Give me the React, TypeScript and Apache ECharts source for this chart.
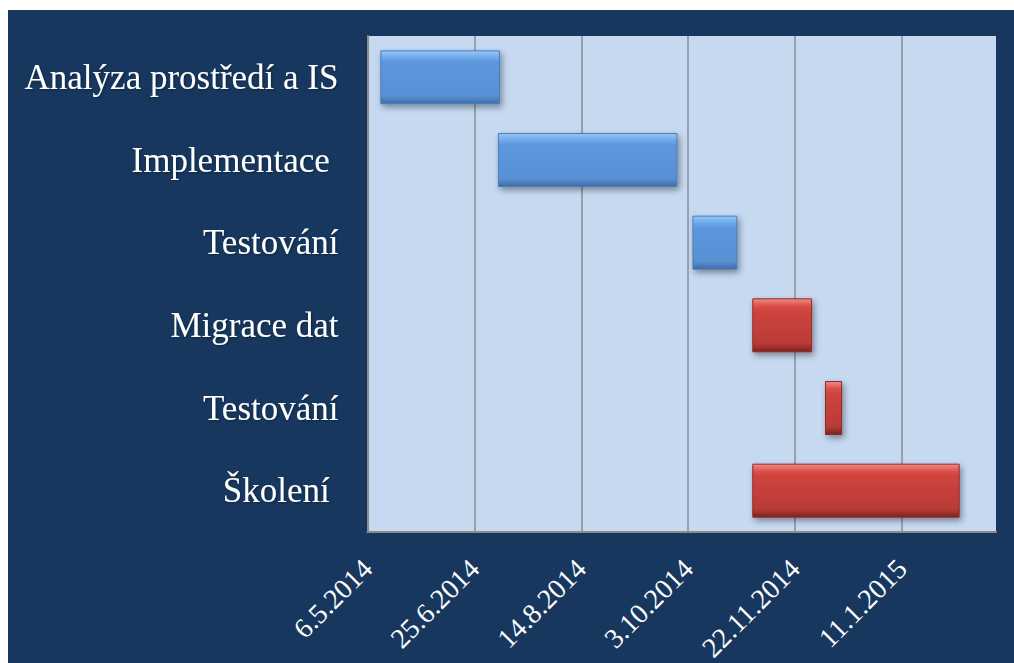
import React, { useEffect, useRef } from "react";
import * as echarts from "echarts";

const tasks = ["Analýza prostředí a IS", "Implementace ", "Testování", "Migrace dat", "Testování", "Školení "];
const startDates = ["2014-05-12", "2014-07-06", "2014-10-05", "2014-11-02", "2014-12-06", "2014-11-02"];
const endDates = ["2014-07-07", "2014-09-28", "2014-10-26", "2014-11-30", "2014-12-14", "2015-02-07"];
const phase = ["blue", "blue", "blue", "red", "red", "red"];
const axisStart = "2014-05-06";
const axisEndDays = 294;
const tickStepDays = 50;
const tickLabels = ["6.5.2014", "25.6.2014", "14.8.2014", "3.10.2014", "22.11.2014", "11.1.2015"];

const DAY = 86400000;
const toDays = (s: string) => Math.round((Date.parse(s + "T00:00:00Z") - Date.parse(axisStart + "T00:00:00Z")) / DAY);

const blueGrad = () =>
  new echarts.graphic.LinearGradient(0, 0, 0, 1, [
    { offset: 0, color: "#93C8F8" },
    { offset: 0.13, color: "#6DA8EA" },
    { offset: 0.22, color: "#5C97DD" },
    { offset: 0.85, color: "#5990D4" },
    { offset: 1, color: "#3E6DA6" },
  ]);
const redGrad = () =>
  new echarts.graphic.LinearGradient(0, 0, 0, 1, [
    { offset: 0, color: "#F28C86" },
    { offset: 0.13, color: "#DB514B" },
    { offset: 0.22, color: "#D0443E" },
    { offset: 0.85, color: "#B83B36" },
    { offset: 1, color: "#7C2220" },
  ]);

export default function App() {
  const ref = useRef<HTMLDivElement>(null);
  useEffect(() => {
    if (!ref.current) return;
    const chart = echarts.init(ref.current, null, { renderer: "svg" });
    const starts = startDates.map(toDays);
    const durations = endDates.map((e, i) => toDays(e) - starts[i]);
    chart.setOption({
      animation: false,
      backgroundColor: "#17375E",
      grid: {
        left: 359.5,
        top: 26,
        right: 18,
        bottom: 131,
        outerBoundsMode: "none",
        containLabel: false,
        show: true,
        backgroundColor: "#C6D9F1",
        borderWidth: 0,
      },
      xAxis: {
        type: "value",
        min: 0,
        max: axisEndDays,
        interval: tickStepDays,
        axisLine: { show: true, lineStyle: { color: "#8C8C8C", width: 2 } },
        axisTick: { show: false },
        splitLine: { show: true, showMaxLine: false, showMinLine: false, lineStyle: { color: "#8C8C8C", width: 1.5 } },
        axisLabel: {
          rotate: 45,
          showMaxLabel: false,
          margin: 32,
          color: "#FFFFFF",
          fontFamily: "Liberation Serif",
          fontSize: 28,
          formatter: (v: number) => {
            const idx = Math.round(v / tickStepDays);
            return tickLabels[idx] ?? "";
          },
        },
      },
      yAxis: {
        type: "category",
        data: tasks,
        inverse: true,
        axisLine: { show: true, lineStyle: { color: "#8C8C8C", width: 2 } },
        axisTick: { show: false },
        splitLine: { show: false },
        axisLabel: {
          color: "#FFFFFF",
          fontFamily: "Liberation Serif",
          fontSize: 35,
          margin: 29,
          textShadowColor: "rgba(0,0,0,0.35)",
          textShadowBlur: 2,
          textShadowOffsetX: 1,
          textShadowOffsetY: 1,
        },
      },
      series: [
        {
          type: "bar",
          stack: "gantt",
          barWidth: 54,
          silent: true,
          itemStyle: { color: "transparent" },
          data: starts,
        },
        {
          type: "bar",
          stack: "gantt",
          barWidth: 54,
          data: durations.map((d, i) => ({
            value: d,
            itemStyle: {
              color: phase[i] === "blue" ? blueGrad() : redGrad(),
              borderColor: phase[i] === "blue" ? "#4A7DBA" : "#8E2B28",
              borderWidth: 1,
              shadowColor: "rgba(0,0,0,0.4)",
              shadowBlur: 6,
              shadowOffsetX: 2,
              shadowOffsetY: 3,
            },
          })),
        },
      ],
    });
    return () => chart.dispose();
  }, []);
  return (
    <div
      ref={ref}
      style={{ position: "absolute", left: 8, top: 10, width: 1006, height: 653 }}
    />
  );
}
